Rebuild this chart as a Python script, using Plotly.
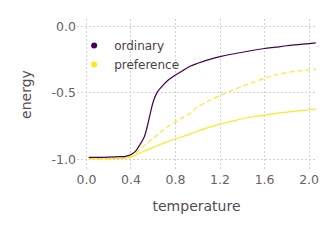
import plotly.graph_objects as go

temperature = [0.02, 0.1, 0.2, 0.3, 0.35, 0.4, 0.44, 0.48, 0.52, 0.55, 0.58, 0.6, 0.63, 0.68,
               0.74, 0.8, 0.86, 0.93, 1.0, 1.1, 1.2, 1.3, 1.4, 1.5, 1.6, 1.7, 1.8, 1.9, 2.0, 2.06]
ordinary = [-0.985, -0.985, -0.983, -0.98, -0.977, -0.963, -0.94, -0.89, -0.83, -0.74, -0.63, -0.567,
            -0.504, -0.45, -0.40, -0.365, -0.335, -0.300, -0.278, -0.25, -0.228, -0.21, -0.195,
            -0.18, -0.167, -0.157, -0.146, -0.138, -0.13, -0.125]
preference_dashed = [-0.995, -0.995, -0.995, -0.99, -0.985, -0.972, -0.955, -0.925, -0.895, -0.875,
                     -0.855, -0.842, -0.82, -0.785, -0.75, -0.72, -0.69, -0.655, -0.605, -0.56,
                     -0.52, -0.485, -0.45, -0.42, -0.39, -0.365, -0.348, -0.336, -0.328, -0.322]
preference_solid = [-0.997, -0.997, -0.997, -0.993, -0.99, -0.983, -0.97, -0.952, -0.937, -0.927,
                    -0.918, -0.91, -0.90, -0.883, -0.862, -0.845, -0.83, -0.81, -0.787, -0.76,
                    -0.735, -0.715, -0.695, -0.68, -0.668, -0.655, -0.645, -0.635, -0.627, -0.622]

x_tickvals = [0.0, 0.4, 0.8, 1.2, 1.6, 2.0]
x_ticktext = ["0.0", "0.4", "0.8", "1.2", "1.6", "2.0"]
y_tickvals = [0.0, -0.5, -1.0]
y_ticktext = ["0.0", "-0.5", "-1.0"]
legend_names = ["ordinary", "preference"]

PURPLE = "#440154"
YELLOW = "#FDE725"
FONT = "DejaVu Sans"

fig = go.Figure()
fig.add_trace(go.Scatter(x=temperature, y=preference_solid, mode="lines",
                         line=dict(color=YELLOW, width=1.2, shape="spline", smoothing=0.8),
                         showlegend=False))
fig.add_trace(go.Scatter(x=temperature, y=preference_dashed, mode="lines",
                         line=dict(color=YELLOW, width=1.2, dash="5px,3px", shape="spline",
                                   smoothing=0.8),
                         showlegend=False))
fig.add_trace(go.Scatter(x=temperature, y=ordinary, mode="lines",
                         line=dict(color=PURPLE, width=1.2, shape="spline", smoothing=0.8),
                         showlegend=False))
fig.add_trace(go.Scatter(x=[None], y=[None], mode="markers", name=legend_names[0],
                         marker=dict(color=PURPLE, size=6)))
fig.add_trace(go.Scatter(x=[None], y=[None], mode="markers", name=legend_names[1],
                         marker=dict(color=YELLOW, size=6)))

axis_common = dict(showline=False, zeroline=False, showgrid=True, gridcolor="#D0D0E0",
                   griddash="2px,2px", gridwidth=1, ticks="", automargin=False,
                   tickfont=dict(family=FONT, size=12.5, color="#6C606B"))

fig.update_layout(
    width=336, height=240,
    margin=dict(l=69, r=28, t=11, b=78),
    paper_bgcolor="white", plot_bgcolor="white",
    font=dict(family=FONT),
    xaxis=dict(range=[-0.085, 2.062], tickvals=x_tickvals, ticktext=x_ticktext,
               title=dict(text="temperature", font=dict(family=FONT, size=14, color="#564A55"),
                          standoff=15),
               **axis_common),
    yaxis=dict(range=[-1.08, 0.055], tickvals=y_tickvals, ticktext=y_ticktext,
               title=dict(text="energy", font=dict(family=FONT, size=14, color="#564A55"),
                          standoff=16),
               **axis_common),
    legend=dict(x=-0.012, y=0.92, xanchor="left", yanchor="top", bgcolor="rgba(0,0,0,0)",
                font=dict(family=FONT, size=12, color="#4C404B"), tracegroupgap=0),
)

fig.write_html("out.html")
